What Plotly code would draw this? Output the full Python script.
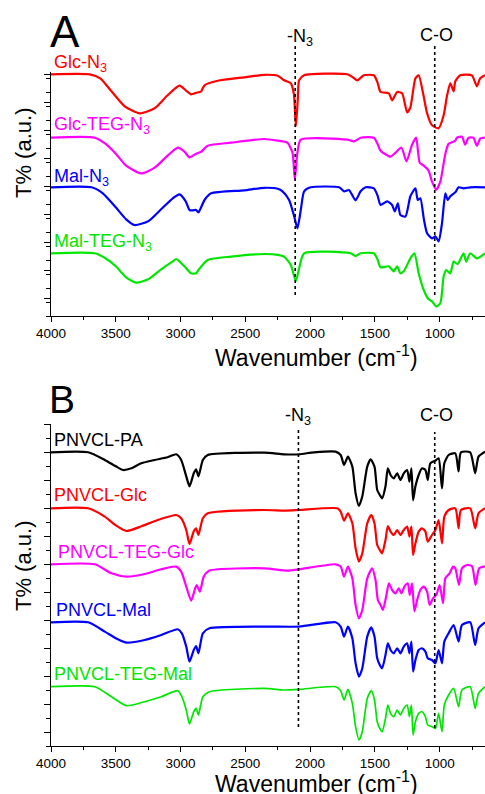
import plotly.graph_objects as go

# ---------------- data ----------------
# Panel A: wavenumber (cm-1) and transmittance change (a.u., 0 = baseline)
glc_n3_wn = [4000, 3700, 3620, 3533, 3431, 3315, 3200, 3100, 3008, 2960, 2918, 2880, 2841, 2815, 2713, 2508, 2354, 2250, 2200, 2149, 2125, 2110, 2095, 2085, 2046, 1713, 1670, 1636, 1585, 1508, 1480, 1456, 1392, 1367, 1328, 1290, 1251, 1226, 1187, 1162, 1128, 1097, 1059, 1008, 969, 944, 918, 892, 879, 841, 751, 713, 687, 650]
glc_n3_t = [0, 0, -4, -17, -32, -39, -34, -21, -11.4, -16, -20, -18.5, -17, -11, -6.5, -3, -0.5, -1.5, -6, -9, -20, -52, -25, -6, -1, 0, -3, -6, -1, -1, -8, -17.7, -19, -26, -17.7, -19, -38, -33, -4, -1, -19, -39, -51, -54, -41, -22, -9, -17, -7, -1, -1, -12, -4, -1]

glc_teg_n3_wn = [4000, 3662, 3580, 3500, 3420, 3303, 3200, 3100, 3021, 2970, 2931, 2880, 2841, 2790, 2610, 2354, 2250, 2175, 2136, 2118, 2098, 2072, 1713, 1662, 1610, 1508, 1480, 1456, 1379, 1341, 1295, 1256, 1213, 1182, 1154, 1123, 1085, 1059, 1026, 995, 956, 931, 879, 867, 828, 803, 777, 740, 713, 687, 650]
glc_teg_n3_t = [0, 0, -6, -16, -28, -35.7, -30, -18, -10, -14, -19.7, -16, -14, -8, -5, -1.3, -3, -5, -15, -42, -15, -2, -2, -3.7, 0, 0, -6, -13, -19, -15, -10, -23.7, -7, 0, -25, -28, -33, -44, -52, -44, -16, -6, -3, 0, 1, -7, 0, 0, -8, -1, 0]

mal_n3_wn = [4000, 3687, 3600, 3500, 3420, 3354, 3250, 3150, 3060, 3008, 2960, 2931, 2905, 2880, 2862, 2815, 2764, 2508, 2354, 2250, 2213, 2162, 2123, 2098, 2072, 2046, 1995, 1777, 1738, 1700, 1649, 1610, 1572, 1508, 1480, 1456, 1405, 1367, 1346, 1323, 1303, 1264, 1226, 1187, 1169, 1149, 1123, 1097, 1059, 1033, 1008, 982, 956, 938, 918, 879, 854, 815, 764, 650]
mal_n3_t = [0, 0, -6, -20, -32, -37.7, -34, -22, -11, -7, -14, -22.7, -23, -22.7, -25, -12.7, -6, -3, -0.5, -1.5, -4, -12.7, -29, -41, -22.7, -4, 0, 0, -4, -2.7, -13, -4, 0, -1, -8, -17.7, -14, -17.7, -24, -16, -27.7, -29.3, -9, -1, -12.7, -11, -31, -46, -51, -49, -54, -36, -6, -12.7, -9, -5, 0, -1, 0, 0]

mal_teg_n3_wn = [4000, 3662, 3580, 3500, 3420, 3341, 3250, 3150, 3060, 3033, 2970, 2918, 2880, 2862, 2790, 2610, 2354, 2250, 2200, 2149, 2110, 2085, 2046, 1687, 1649, 1610, 1508, 1480, 1456, 1392, 1354, 1328, 1303, 1277, 1226, 1195, 1162, 1123, 1085, 1059, 1026, 995, 969, 949, 918, 892, 862, 815, 795, 764, 713, 650]
mal_teg_n3_t = [0, 0, -5, -13, -24, -29.3, -26, -16, -8, -5.7, -13, -20, -20, -16.7, -6.7, -3.3, -0.7, -1.5, -3.3, -11.7, -27.7, -15, 0, 0, -2.7, 0, 0, -6, -14, -13, -18, -13, -20, -18, -5, 0, -20, -36.7, -46, -48, -53, -50, -23, -16.7, -20, -8.3, -10.7, 0, -8.3, 0, -5, 0]

# Panel B
pa_wn = [4000, 3713, 3585, 3500, 3444, 3379, 3303, 3200, 3100, 3033, 2995, 2956, 2931, 2898, 2880, 2862, 2828, 2790, 2354, 2200, 2085, 1969, 1803, 1764, 1738, 1708, 1674, 1649, 1623, 1597, 1559, 1533, 1503, 1482, 1462, 1444, 1418, 1400, 1379, 1354, 1328, 1303, 1277, 1251, 1233, 1218, 1205, 1187, 1162, 1136, 1110, 1092, 1072, 1033, 1008, 982, 964, 931, 879, 854, 836, 764, 726, 700, 650]
pa_t = [0, 0, -7.7, -14, -17.7, -16, -11, -7.7, -5, -2, -7.7, -24, -34, -21, -17, -24, -7.7, -2.7, -0.3, -2, -2, 0, 0.7, -2.7, -12.7, -4.3, -14.3, -41, -53.7, -44, -14.3, -7, -14.3, -37.7, -42.7, -46, -34, -16, -22.7, -26, -21, -27.7, -21, -17.7, -29.3, -16, -48, -34, -22.7, -16, -17.7, -27.7, -11, -8.3, -6, -36, -11, -2.7, -1, -19, 0, 0, -21, -4.3, 0.7]

glc_wn = [4000, 3713, 3585, 3500, 3418, 3303, 3175, 3033, 2995, 2956, 2931, 2898, 2880, 2862, 2828, 2790, 2354, 2200, 2085, 1790, 1764, 1738, 1708, 1674, 1649, 1623, 1597, 1559, 1528, 1503, 1482, 1462, 1444, 1418, 1400, 1379, 1354, 1328, 1303, 1277, 1251, 1233, 1218, 1205, 1187, 1162, 1136, 1110, 1092, 1059, 1033, 1008, 982, 964, 931, 879, 854, 836, 764, 726, 700, 650]
glc_t = [0, 0, -8.3, -17, -22.7, -18, -11.7, -6.7, -10, -21.7, -35.7, -23, -20, -26.7, -10, -5, -1.7, -2.3, -1.7, 0, -3.3, -12.3, -5, -15, -40, -53.3, -45, -15, -6.7, -15, -36.7, -41.7, -45, -31.7, -17.7, -23.3, -26.7, -21.7, -26.7, -21.7, -18.3, -28.3, -18.3, -46.7, -35, -23.3, -20, -23.3, -33.3, -26.7, -21.7, -11.7, -35, -8.3, -1.7, 0, -20, -1.7, 0, -20, -5, 0]

teg_glc_wn = [4000, 3662, 3533, 3418, 3277, 3150, 3033, 2995, 2956, 2918, 2887, 2875, 2851, 2821, 2777, 2354, 2175, 2085, 1803, 1764, 1738, 1708, 1674, 1649, 1623, 1597, 1559, 1521, 1495, 1477, 1456, 1438, 1413, 1392, 1367, 1341, 1316, 1295, 1272, 1246, 1231, 1213, 1195, 1174, 1149, 1123, 1097, 1077, 1051, 1026, 1000, 974, 956, 923, 897, 879, 851, 828, 790, 750, 723, 695, 650]
teg_glc_t = [0, 0, -9, -12.3, -9.7, -5, -2.3, -7.3, -22.3, -36.3, -24, -20.7, -27.3, -12.3, -6.3, -4, -6.3, -5, 0, -2.3, -12.3, -2.3, -14, -40.7, -54, -45.7, -14, -4, -15.7, -35.7, -40.7, -45.7, -32.3, -19, -25.7, -29, -24, -29, -22.3, -19, -30.7, -19, -47, -35.7, -25.7, -22.3, -27.3, -40.7, -34, -30.7, -20.7, -39, -14, -9, -2.3, -4, -20.7, -4, -0.7, -2, -20.7, -4, -2]

mal_wn = [4000, 3713, 3585, 3500, 3418, 3277, 3149, 3021, 2990, 2956, 2931, 2898, 2880, 2862, 2828, 2777, 2354, 2085, 1803, 1764, 1738, 1708, 1674, 1649, 1623, 1597, 1559, 1528, 1503, 1482, 1462, 1444, 1418, 1400, 1379, 1354, 1328, 1303, 1277, 1251, 1233, 1218, 1205, 1187, 1162, 1136, 1110, 1092, 1059, 1033, 1008, 982, 964, 931, 892, 854, 828, 764, 726, 700, 650]
mal_t = [0, 0, -9.3, -16, -20.3, -17.7, -12.7, -7, -11, -24.3, -39.3, -27.7, -23.7, -31, -11, -6, -4.3, -4.3, 0, -4.3, -14.3, -4.3, -16, -41, -54.3, -46, -14.3, -5, -14.3, -36, -42.7, -46, -32.7, -21, -27.7, -31, -26, -31, -24.3, -21, -31, -19.3, -49.3, -37.7, -27.7, -26, -29.3, -36, -37.7, -41, -27.7, -41, -19.3, -11, -2.7, -19.3, -2.7, 0, -22.7, -6, 0]

teg_mal_wn = [4000, 3662, 3533, 3418, 3277, 3149, 3021, 2990, 2956, 2931, 2898, 2880, 2862, 2828, 2777, 2354, 2200, 2085, 1803, 1764, 1738, 1708, 1674, 1649, 1623, 1597, 1559, 1528, 1503, 1482, 1462, 1444, 1418, 1400, 1379, 1354, 1328, 1303, 1277, 1251, 1233, 1218, 1205, 1187, 1162, 1136, 1110, 1092, 1059, 1033, 1008, 982, 964, 931, 892, 854, 828, 764, 726, 700, 650]
teg_mal_t = [0, 0, -10, -19, -15, -10, -4, -10, -23.3, -37.3, -25, -21.7, -28.3, -10, -5, -1.7, -3.3, -2.7, 0, -4, -13.3, -2.7, -16.7, -40, -53.3, -45, -11.7, -4, -13.3, -35, -41.7, -45, -31.7, -18.3, -26.7, -30, -23.3, -28.3, -21.7, -18.3, -30, -18.3, -48.3, -35, -26.7, -25, -30, -38.3, -40, -41.7, -26.7, -45, -18.3, -8.3, -1.7, -20, -3.3, 0, -21.7, -6.7, 0]

names_a = ["Glc-N<sub>3</sub>", "Glc-TEG-N<sub>3</sub>", "Mal-N<sub>3</sub>", "Mal-TEG-N<sub>3</sub>"]
names_b = ["PNVCL-PA", "PNVCL-Glc", "PNVCL-TEG-Glc", "PNVCL-Mal", "PNVCL-TEG-Mal"]
xticks = [4000, 3500, 3000, 2500, 2000, 1500, 1000]
n3_line_a, co_line_a = 2115, 1038
n3_line_b, co_line_b = 2090, 1038

# ---------------- styling / layout ----------------
W, H = 485, 794
FONT = "Arial, Liberation Sans, sans-serif"
colors_a = ["#ff0000", "#ff00ff", "#0000ff", "#00e600"]
colors_b = ["#000000", "#ff0000", "#ff00ff", "#0000ff", "#00e600"]
offsets_a = [241.7, 178.3, 128.7, 62.7]
offsets_b = [293.7, 237.7, 181.7, 123.7, 59.3]

def px(x):
    return x / W

def py(y):
    return 1 - y / H

fig = go.Figure()
series_a = [(glc_n3_wn, glc_n3_t), (glc_teg_n3_wn, glc_teg_n3_t), (mal_n3_wn, mal_n3_t), (mal_teg_n3_wn, mal_teg_n3_t)]
for (wn, t), c, off, nm in zip(series_a, colors_a, offsets_a, names_a):
    fig.add_trace(go.Scatter(x=wn, y=[v + off for v in t], mode="lines", name=nm,
                             line=dict(color=c, width=2.2, shape="spline", smoothing=0.6),
                             xaxis="x", yaxis="y", showlegend=False))
series_b = [(pa_wn, pa_t), (glc_wn, glc_t), (teg_glc_wn, teg_glc_t), (mal_wn, mal_t), (teg_mal_wn, teg_mal_t)]
for i, ((wn, t), c, off, nm) in enumerate(zip(series_b, colors_b, offsets_b, names_b)):
    fig.add_trace(go.Scatter(x=wn, y=[v + off for v in t], mode="lines", name=nm,
                             line=dict(color=c, width=1.7 if i == 4 else 2.2, shape="spline", smoothing=0.6),
                             xaxis="x2", yaxis="y2", showlegend=False))

xcommon = dict(range=[4000, 650], tickvals=xticks, ticks="outside", ticklen=5, tickwidth=1.2,
               tickcolor="black", showline=True, linecolor="black", linewidth=1.3, automargin=False,
               showgrid=False, zeroline=False, tickfont=dict(family=FONT, size=13.5, color="black"),
               minor=dict(dtick=250, ticks="outside", ticklen=3, tickwidth=1.2, tickcolor="black", showgrid=False))
ycommon = dict(showticklabels=False, ticks="outside", ticklen=6, tickwidth=1.2, tickcolor="black",
               showline=True, linecolor="black", linewidth=1.3, showgrid=False, zeroline=False, automargin=False,
               minor=dict(dtick=14, ticks="outside", ticklen=3.5, tickwidth=1.2, tickcolor="black", showgrid=False))

fig.update_layout(
    width=W, height=H, margin=dict(l=0, r=0, t=0, b=0, pad=0, autoexpand=False),
    paper_bgcolor="white", plot_bgcolor="white",
    xaxis=dict(domain=[px(51), 1], anchor="y", **xcommon),
    yaxis=dict(domain=[py(316), py(72)], range=[0, 244], anchor="x", tick0=18, dtick=28, **ycommon),
    xaxis2=dict(domain=[px(51), 1], anchor="y2", **xcommon),
    yaxis2=dict(domain=[py(746), py(424)], range=[0, 322], anchor="x2", tick0=14, dtick=28, **ycommon),
)

shapes = []
for xr, xv, y0, y1 in [("x", n3_line_a, 295, 46), ("x", co_line_a, 295, 46),
                       ("x2", n3_line_b, 727, 430), ("x2", co_line_b, 728, 432)]:
    shapes.append(dict(type="line", xref=xr, yref="paper", x0=xv, x1=xv, y0=py(y0), y1=py(y1),
                       line=dict(color="black", width=1.6, dash="dot")))
fig.update_layout(shapes=shapes)

ann = []
def add_text(text, x, y, size, color="black", xanchor="center", angle=0):
    ann.append(dict(text=text, x=px(x), y=py(y), xref="paper", yref="paper", showarrow=False,
                    xanchor=xanchor, yanchor="middle", textangle=angle,
                    font=dict(family=FONT, size=size, color=color)))

add_text("A", 65, 31, 44)
add_text("B", 62, 399, 39)
add_text("-N<sub>3</sub>", 300, 37, 18)
add_text("C-O", 436, 35, 18)
add_text("-N<sub>3</sub>", 298, 416, 18)
add_text("C-O", 436, 415, 18)
for nm, c, yy in zip(names_a, colors_a, [63, 126, 177, 242]):
    add_text(nm, 52, yy, 18, c, xanchor="left")
for nm, c, xx, yy in zip(names_b, colors_b, [52, 52, 56, 54, 52], [440, 495, 552, 610, 674]):
    add_text(nm, xx, yy, 18, c, xanchor="left")
add_text("Wavenumber (cm<sup>-1</sup>)", 316, 356, 23)
add_text("Wavenumber (cm<sup>-1</sup>)", 316, 782, 23)
add_text("T% (a.u.)", 23, 153, 22, angle=-90)
add_text("T% (a.u.)", 23, 566, 22, angle=-90)
fig.update_layout(annotations=ann)

fig.write_html("out.html", config={"displayModeBar": False},
               post_script="document.body.style.margin='0';document.body.style.overflow='hidden';")
